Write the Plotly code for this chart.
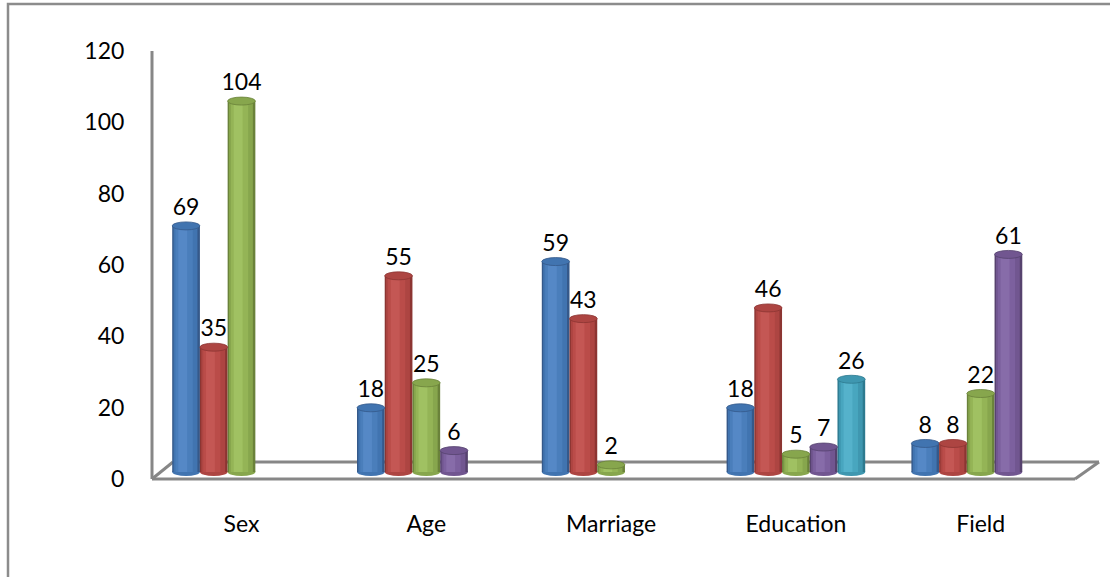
import plotly.graph_objects as go

categories = ["Sex", "Age", "Marriage", "Education", "Field"]
series1 = [69, 18, 59, 18, 8]
series2 = [35, 55, 43, 46, 8]
series3 = [104, 25, 2, 5, 22]
series4 = [None, 6, None, 7, 61]
series5 = [None, None, None, 26, None]
y_ticks = [0, 20, 40, 60, 80, 100, 120]

all_series = [series1, series2, series3, series4, series5]
palettes = [
    ("#35598A", "#4174B0", "#4A7EBB", "#5588C6"),  # blue
    ("#8C3532", "#AD4542", "#BA4C49", "#C45754"),  # red
    ("#6A823A", "#87A64D", "#94B456", "#A0C162"),  # green
    ("#56426E", "#715690", "#7C609E", "#876CA9"),  # purple
    ("#2D7A8F", "#3F97B0", "#48A6BF", "#55B2CB"),  # teal
]

# layout geometry (pixels)
W, H = 1110, 577
L, R, T, B = 152, 1099, 51, 479
PW, PH = R - L, B - T
ppu = PH / 120.0                # pixels per value unit
shift = 7 / ppu                 # bars sit on the middle plane of the floor
x0_px, cat_px = 241.5, 184.8    # centre of first category, spacing
xr = [(L - x0_px) / cat_px, (len(categories) - 1) + (R - (x0_px + 4 * cat_px)) / cat_px]
yr = [-shift, 120 - shift]

bw = 0.15
n = len(all_series)
xs = list(range(len(categories)))

fig = go.Figure()
shapes = []

def px_x(p):
    return (p - L) / PW

def px_y(p):
    return (B - p) / PH

cap_h = 8 / ppu
lift = 5 / ppu
for i, vals in enumerate(all_series):
    dark, main, mid, light = palettes[i]
    off = -bw * n / 2 + i * bw
    px_list = [x for x, v in zip(xs, vals) if v is not None]
    v_list = [v for v in vals if v is not None]
    layers = [
        (dark, 1.0, 0.0),
        (main, 0.86, 0.05),
        (mid, 0.62, 0.12),
        (light, 0.32, 0.22),
    ]
    for col, frac, lo in layers:
        fig.add_trace(go.Bar(
            x=px_list, y=v_list,
            width=[bw * frac] * len(v_list),
            offset=[off + bw * lo] * len(v_list),
            marker=dict(color=col, line=dict(width=0)),
            hoverinfo="skip", showlegend=False,
        ))
    for x, v in zip(px_list, v_list):
        shapes.append(dict(type="circle", xref="x", yref="y",
                           x0=x + off, x1=x + off + bw, y0=-cap_h / 2, y1=cap_h / 2,
                           fillcolor=main, line=dict(width=0), layer="below"))
        shapes.append(dict(type="circle", xref="x", yref="y",
                           x0=x + off, x1=x + off + bw, y0=v - cap_h / 2, y1=v + cap_h / 2,
                           fillcolor=main, line=dict(color=dark, width=0.8), layer="above"))
    fig.add_trace(go.Scatter(
        x=[x + off + bw / 2 for x in px_list], y=[v + lift for v in v_list],
        mode="text", text=[str(v) for v in v_list], textposition="top center",
        textfont=dict(family="Lato", size=23, color="black"),
        hoverinfo="skip", showlegend=False, cliponaxis=False,
    ))

grey = "#878787"
floor_pts = [((152, 479), (1075, 479)), ((173, 462), (1099, 462)),
             ((152, 479), (173, 462)), ((1075, 479), (1099, 462))]
for (a, b) in floor_pts:
    shapes.append(dict(type="line", xref="paper", yref="paper",
                       x0=px_x(a[0]), y0=px_y(a[1]), x1=px_x(b[0]), y1=px_y(b[1]),
                       line=dict(color=grey, width=3), layer="below"))
shapes.append(dict(type="line", xref="paper", yref="paper",
                   x0=px_x(152), y0=px_y(51), x1=px_x(152), y1=px_y(479),
                   line=dict(color=grey, width=3), layer="below"))
shapes.append(dict(type="rect", xref="paper", yref="paper",
                   x0=px_x(8), y0=px_y(590), x1=px_x(1125), y1=px_y(4),
                   line=dict(color="#8C8C8C", width=2.5), layer="below"))

fig.update_layout(
    width=W, height=H,
    margin=dict(l=L, r=W - R, t=T, b=H - B),
    paper_bgcolor="white", plot_bgcolor="white",
    barmode="overlay",
    shapes=shapes,
    font=dict(family="Lato", size=23, color="black"),
    xaxis=dict(range=xr, tickvals=xs, ticktext=categories, showgrid=False,
               zeroline=False, showline=False, ticks="outside", ticklen=24,
               tickcolor="rgba(0,0,0,0)", tickfont=dict(family="Lato", size=23)),
    yaxis=dict(range=yr, tickvals=[t - shift for t in y_ticks],
               ticktext=[str(t) for t in y_ticks], showgrid=False, zeroline=False,
               showline=False, ticks="outside", ticklen=22, tickcolor="rgba(0,0,0,0)",
               tickfont=dict(family="Lato", size=23)),
)

fig.write_html("out.html")
